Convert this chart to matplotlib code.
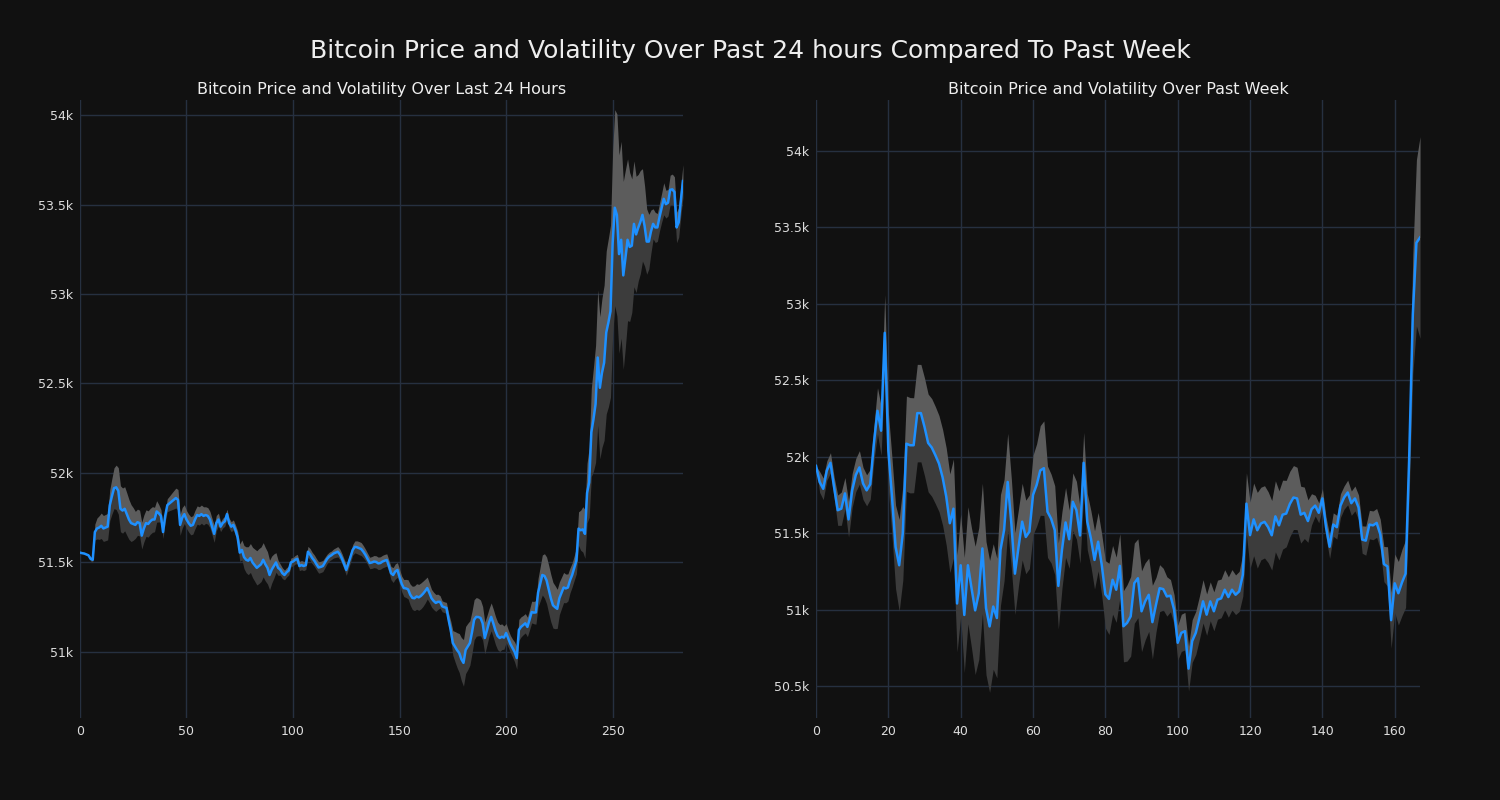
import matplotlib.pyplot as plt
import numpy as np
import pandas as pd
from matplotlib.ticker import FuncFormatter

# price over last 24 hours (one point per 5 minutes)
price_24h = [
    51555, 51552, 51550, 51545, 51540, 51520, 51515, 51670, 51690, 51695,
    51705, 51690, 51695, 51700, 51820, 51870, 51915, 51920, 51900, 51800,
    51790, 51800, 51770, 51740, 51720, 51715, 51710, 51725, 51720, 51650,
    51690, 51720, 51715, 51730, 51740, 51740, 51785, 51775, 51760, 51670,
    51760, 51820, 51830, 51840, 51850, 51860, 51850, 51710, 51750, 51770,
    51740, 51720, 51705, 51710, 51740, 51765, 51760, 51770, 51760, 51765,
    51760, 51740, 51700, 51660, 51720, 51740, 51700, 51720, 51730, 51770,
    51720, 51700, 51710, 51680, 51640, 51555, 51570, 51530, 51515, 51510,
    51525, 51500, 51485, 51470, 51480, 51490, 51515, 51490, 51470, 51430,
    51460, 51480, 51500, 51470, 51460, 51440, 51430, 51445, 51455, 51500,
    51505, 51515, 51520, 51480, 51485, 51480, 51485, 51560, 51545, 51525,
    51510, 51490, 51472, 51475, 51480, 51500, 51520, 51533, 51540, 51550,
    51555, 51560, 51545, 51520, 51490, 51458, 51495, 51530, 51570, 51587,
    51585, 51580, 51575, 51560, 51542, 51520, 51497, 51500, 51505, 51503,
    51495, 51497, 51505, 51510, 51514, 51480, 51440, 51430, 51450, 51458,
    51420, 51380, 51357, 51355, 51350, 51320, 51302, 51300, 51310, 51305,
    51313, 51325, 51340, 51357, 51330, 51300, 51285, 51274, 51280, 51280,
    51255, 51250, 51246, 51180, 51123, 51050, 51030, 51010, 50994, 50960,
    50939, 51011, 51030, 51050, 51110, 51180, 51196, 51195, 51190, 51160,
    51078, 51120, 51165, 51196, 51160, 51120, 51090, 51078, 51085, 51080,
    51106, 51075, 51045, 51022, 51000, 50966, 51123, 51140, 51150, 51160,
    51140, 51180, 51223, 51220, 51221, 51331, 51380, 51430, 51425, 51400,
    51350, 51300, 51261, 51250, 51241, 51300, 51330, 51360, 51355, 51360,
    51400, 51430, 51470, 51510, 51689, 51680, 51685, 51660, 51888, 51948,
    52227, 52300, 52386, 52645, 52476, 52560, 52616, 52785, 52840, 52904,
    53283, 53482, 53442, 53223, 53303, 53104, 53200, 53303, 53263, 53270,
    53392, 53333, 53370, 53402, 53442, 53380, 53293, 53293, 53350, 53392,
    53372, 53372, 53430, 53482, 53532, 53502, 53510, 53582, 53585, 53570,
    53372, 53400, 53520, 53631,
]

# price over past week (one point per hour)
price_week = [
    51940, 51835, 51790, 51910, 51960, 51800, 51650, 51660, 51760, 51590,
    51780, 51880, 51930, 51825, 51780, 51820, 52085, 52300, 52170, 52810,
    52040, 51740, 51410, 51290, 51500, 52085, 52075, 52075, 52285, 52285,
    52195, 52090, 52060, 52010, 51955, 51865, 51740, 51565, 51660, 51040,
    51290, 50965, 51290, 51140, 50995, 51105, 51400, 51010, 50890, 51020,
    50945, 51390, 51520, 51835, 51565, 51235, 51410, 51575, 51475, 51510,
    51750, 51815, 51910, 51925, 51640, 51595, 51520, 51155, 51390, 51570,
    51460, 51705, 51650, 51485, 51960, 51575, 51465, 51325, 51444, 51292,
    51100, 51070, 51195, 51130, 51286, 50891, 50913, 50956, 51173, 51205,
    50989, 51054, 51097, 50918, 51032, 51140, 51134, 51086, 51091, 51000,
    50783, 50848, 50859, 50614, 50794, 50848, 50946, 51054, 50967, 51054,
    50989, 51065, 51073, 51130, 51082, 51130, 51097, 51119, 51227, 51693,
    51487, 51590, 51519, 51563, 51574, 51539, 51486, 51610, 51551, 51621,
    51628, 51691, 51733, 51727, 51621, 51633, 51579, 51656, 51680, 51633,
    51727, 51539, 51411, 51556, 51539, 51680, 51733, 51766, 51696, 51727,
    51668, 51458, 51451, 51556, 51551, 51567, 51493, 51298, 51282, 50931,
    51172, 51107, 51177, 51235, 51995, 52931, 53399, 53434,
]

y_ticks_24h = [51000, 51500, 52000, 52500, 53000, 53500, 54000]
y_ticks_week = [50500, 51000, 51500, 52000, 52500, 53000, 53500, 54000]

bg = '#111111'
fig = plt.figure(figsize=(15, 8), dpi=100, facecolor=bg)
fig.suptitle('Bitcoin Price and Volatility Over Past 24 hours Compared To Past Week',
             color='#eeeeee', fontsize=18, y=0.951)

kfmt = FuncFormatter(lambda v, p: f'{v / 1000:g}k')


def draw(ax, prices, title, yticks, ylim, xticks):
    s = pd.Series(prices, dtype=float)
    x = np.arange(len(s))
    vol = s.rolling(20, min_periods=2).std().fillna(0) * 0.92
    ax.set_facecolor(bg)
    ax.fill_between(x, s, s + vol, color='#5c5c5c', lw=0)
    ax.fill_between(x, s - vol, s, color='#3c3c3c', lw=0)
    ax.plot(x, s, color='#1e90ff', lw=1.8)
    ax.set_title(title, color='#eeeeee', fontsize=11.5, pad=4)
    ax.set_xlim(0, len(s) - 1)
    ax.set_ylim(*ylim)
    ax.set_yticks(yticks)
    ax.set_xticks(xticks)
    ax.yaxis.set_major_formatter(kfmt)
    ax.grid(True, color='#263040', lw=1)
    ax.set_axisbelow(True)
    for sp in ax.spines.values():
        sp.set_visible(False)
    ax.tick_params(colors='#dddddd', labelsize=9, length=0, pad=5)


ax1 = fig.add_axes([0.0533, 0.1025, 0.402, 0.7725])
ax2 = fig.add_axes([0.544, 0.1025, 0.4027, 0.7725])
draw(ax1, price_24h, 'Bitcoin Price and Volatility Over Last 24 Hours',
     y_ticks_24h, (50631, 54084), [0, 50, 100, 150, 200, 250])
draw(ax2, price_week, 'Bitcoin Price and Volatility Over Past Week',
     y_ticks_week, (50291, 54333), [0, 20, 40, 60, 80, 100, 120, 140, 160])

fig.savefig('out.png', facecolor=bg)
